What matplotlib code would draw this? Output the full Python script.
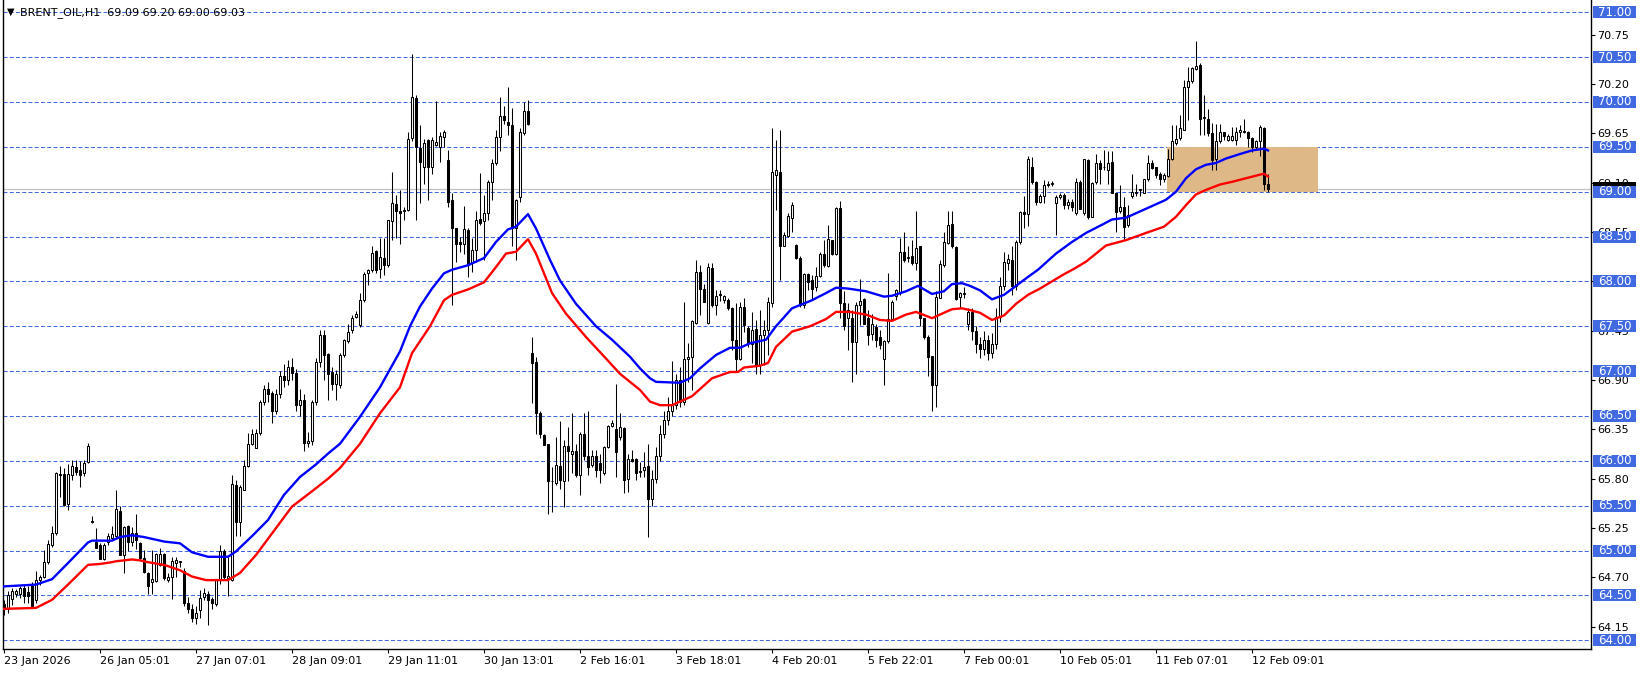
import matplotlib
matplotlib.use("Agg")
import matplotlib.pyplot as plt
from matplotlib.patches import Rectangle
import numpy as np

# H1 candles, 23 Jan 2026 -> 12 Feb 2026 (one entry per bar)
opens = [
    64.40, 64.35, 64.46, 64.51, 64.51, 64.58, 64.54, 64.63, 64.45, 64.67,
    64.71, 64.87, 65.06, 65.19, 65.85, 65.85, 65.52, 65.84, 65.93, 65.90,
    65.86, 65.99, 65.32, 65.10, 65.06, 64.90, 65.10, 65.14, 65.16, 65.44,
    64.95, 65.27, 65.09, 65.19, 65.08, 64.92, 64.75, 64.65, 64.66, 64.84,
    64.96, 64.67, 64.71, 64.86, 64.87, 64.77, 64.42, 64.35, 64.25, 64.34,
    64.48, 64.52, 64.46, 64.40, 64.67, 64.99, 64.69, 64.67, 65.73, 65.32,
    65.68, 65.94, 66.19, 66.14, 66.31, 66.66, 66.80, 66.76, 66.55, 66.75,
    66.95, 66.90, 67.05, 66.98, 66.62, 66.68, 66.20, 66.22, 66.66, 67.10,
    67.40, 67.19, 66.99, 66.86, 66.84, 67.18, 67.33, 67.46, 67.60, 67.51,
    67.79, 68.09, 68.13, 68.34, 68.14, 68.26, 68.18, 68.67, 68.86, 68.78,
    68.80, 68.80, 69.60, 70.05, 69.49, 69.27, 69.58, 69.27, 69.52, 69.50,
    69.61, 69.35, 68.91, 68.59, 68.44, 68.42, 68.57, 68.20, 68.35, 68.70,
    68.67, 68.76, 69.11, 69.32, 69.61, 69.84, 69.78, 69.74, 68.59, 68.94,
    69.65, 69.90, 67.20, 67.10, 66.53, 66.29, 66.19, 65.77, 65.75, 65.94,
    65.78, 66.16, 66.08, 66.11, 65.84, 66.30, 66.05, 65.95, 66.05, 65.97,
    65.86, 66.15, 66.39, 66.35, 66.27, 66.37, 65.80, 66.02, 66.02, 65.88,
    65.90, 65.94, 65.57, 65.80, 66.05, 66.30, 66.45, 66.55, 66.62, 66.90,
    66.65, 67.13, 67.16, 67.54, 68.10, 67.92, 67.54, 68.15, 67.74, 67.85,
    67.79, 67.79, 67.70, 67.35, 67.14, 67.72, 67.48, 67.30, 67.47, 67.07,
    67.40, 67.46, 67.76, 69.19, 69.22, 68.39, 68.51, 68.71, 68.41, 68.26,
    67.74, 68.08, 68.02, 67.94, 68.06, 68.30, 68.17, 68.46, 68.31, 68.82,
    67.76, 67.59, 67.59, 67.32, 67.74, 67.80, 67.59, 67.41, 67.49, 67.38,
    67.13, 67.33, 67.58, 67.84, 67.87, 68.33, 68.26, 68.28, 68.20, 68.39,
    67.59, 67.38, 67.17, 66.85, 67.81, 68.18, 68.43, 68.64, 68.38, 67.83,
    67.86, 67.53, 67.66, 67.45, 67.30, 67.25, 67.35, 67.20, 67.30, 67.60,
    67.95, 68.21, 68.24, 67.95, 68.44, 68.77, 68.75, 69.28, 69.11, 68.89,
    68.95, 69.08, 69.09, 68.87, 68.94, 68.96, 68.85, 68.89, 68.76, 69.11,
    68.76, 69.35, 68.72, 69.11, 69.32, 69.27, 69.24, 69.33, 68.98, 68.78,
    68.83, 68.63, 68.95, 68.99, 69.02, 68.99, 69.14, 69.32, 69.27, 69.20,
    69.14, 69.17, 69.37, 69.54, 69.60, 69.69, 70.17, 70.23, 70.37, 70.41,
    69.82, 69.81, 69.65, 69.37, 69.57, 69.66, 69.58, 69.58, 69.58, 69.67,
    69.67, 69.67, 69.60, 69.50, 69.56, 69.71, 69.09,
]
highs = [
    64.45, 64.55, 64.58, 64.57, 64.60, 64.62, 64.60, 64.65, 64.77, 64.73,
    65.01, 65.12, 65.27, 65.88, 65.94, 65.92, 65.96, 66.01, 66.01, 66.00,
    66.01, 66.20, 65.38, 65.25, 65.08, 65.08, 65.20, 65.27, 65.68, 65.50,
    65.27, 65.28, 65.26, 65.41, 65.09, 65.01, 64.76, 65.01, 64.97, 65.03,
    64.97, 64.75, 64.93, 64.93, 64.88, 64.80, 64.48, 64.40, 64.38, 64.56,
    64.58, 64.55, 64.48, 64.67, 65.06, 65.02, 64.93, 65.84, 65.79, 65.73,
    66.01, 66.31, 66.36, 66.36, 66.68, 66.85, 66.88, 66.78, 66.80, 67.00,
    67.08, 67.12, 67.15, 67.02, 66.80, 66.75, 66.32, 66.68, 67.15, 67.46,
    67.46, 67.20, 67.05, 67.01, 67.20, 67.36, 67.53, 67.62, 67.67, 67.87,
    68.11, 68.14, 68.40, 68.35, 68.48, 68.48, 68.68, 69.22, 68.96, 69.02,
    68.83, 69.67, 70.54, 70.08, 69.74, 69.59, 69.59, 69.61, 70.01, 69.67,
    69.69, 69.46, 68.98, 68.59, 68.50, 68.84, 68.59, 68.48, 68.78, 69.21,
    68.96, 69.13, 69.37, 69.69, 70.06, 69.95, 70.17, 69.93, 68.92, 69.71,
    70.00, 70.02, 67.38, 67.16, 66.55, 66.30, 66.19, 65.93, 66.27, 66.44,
    66.23, 66.38, 66.53, 66.19, 66.32, 66.53, 66.55, 66.12, 66.12, 66.08,
    66.17, 66.40, 66.45, 66.86, 66.53, 66.38, 66.08, 66.12, 66.03, 65.99,
    66.10, 66.19, 65.90, 66.15, 66.40, 66.55, 66.71, 67.11, 66.97, 67.05,
    67.77, 67.31, 67.57, 68.24, 68.18, 67.97, 68.20, 68.20, 67.90, 67.90,
    67.85, 67.81, 67.72, 67.76, 67.77, 67.81, 67.50, 67.66, 67.57, 67.68,
    67.57, 67.83, 69.71, 69.58, 69.69, 68.55, 68.76, 68.88, 68.42, 68.28,
    68.09, 68.09, 68.07, 68.16, 68.33, 68.46, 68.63, 68.46, 68.83, 68.90,
    67.89, 67.76, 67.68, 67.77, 68.03, 67.82, 67.68, 67.64, 67.53, 67.46,
    67.35, 68.09, 67.79, 67.91, 68.48, 68.55, 68.39, 68.46, 68.79, 68.39,
    67.59, 67.40, 67.17, 67.89, 68.24, 68.55, 68.78, 68.78, 68.39, 67.88,
    67.94, 67.70, 67.70, 67.50, 67.38, 67.45, 67.40, 67.42, 67.70, 68.05,
    68.33, 68.31, 68.39, 68.46, 68.78, 68.95, 69.40, 69.39, 69.12, 68.97,
    69.13, 69.12, 69.12, 68.96, 68.99, 68.98, 68.92, 68.92, 69.15, 69.13,
    69.37, 69.37, 69.11, 69.42, 69.35, 69.46, 69.45, 69.45, 68.99, 69.07,
    68.94, 68.85, 69.20, 69.09, 69.03, 69.14, 69.41, 69.35, 69.28, 69.22,
    69.21, 69.48, 69.74, 69.74, 69.86, 70.25, 70.39, 70.39, 70.68, 70.43,
    70.08, 69.92, 69.77, 69.76, 69.76, 69.67, 69.64, 69.72, 69.72, 69.74,
    69.81, 69.68, 69.61, 69.58, 69.74, 69.72, 69.20,
]
lows = [
    64.28, 64.30, 64.39, 64.48, 64.47, 64.41, 64.41, 64.36, 64.42, 64.62,
    64.69, 64.85, 65.04, 65.17, 65.60, 65.50, 65.45, 65.79, 65.84, 65.71,
    65.83, 65.97, 65.31, 65.03, 64.90, 64.89, 65.06, 65.12, 65.14, 64.95,
    64.75, 64.99, 65.05, 65.02, 64.91, 64.75, 64.51, 64.51, 64.65, 64.83,
    64.67, 64.65, 64.46, 64.71, 64.82, 64.38, 64.30, 64.20, 64.18, 64.25,
    64.45, 64.17, 64.35, 64.38, 64.63, 64.68, 64.49, 64.66, 65.16, 65.16,
    65.67, 65.93, 66.18, 66.14, 66.29, 66.62, 66.66, 66.42, 66.52, 66.70,
    66.82, 66.85, 66.90, 66.55, 66.50, 66.11, 66.15, 66.18, 66.62, 67.05,
    66.90, 66.68, 66.79, 66.68, 66.81, 67.16, 67.31, 67.42, 67.59, 67.49,
    67.77, 67.96, 68.11, 68.09, 68.04, 68.07, 68.16, 68.46, 68.48, 68.42,
    68.68, 68.78, 69.56, 68.68, 68.87, 69.09, 68.91, 69.20, 69.51, 69.33,
    69.50, 68.83, 67.74, 68.22, 68.33, 68.31, 68.05, 68.11, 68.22, 68.63,
    68.24, 68.68, 68.91, 69.30, 69.45, 69.76, 69.63, 68.40, 68.24, 68.89,
    69.63, 69.74, 66.64, 66.30, 66.25, 66.18, 65.41, 65.43, 65.73, 65.69,
    65.49, 65.78, 65.86, 65.82, 65.62, 66.01, 65.84, 65.93, 65.82, 65.75,
    65.84, 66.14, 66.38, 65.82, 66.23, 65.64, 65.65, 65.99, 65.79, 65.82,
    65.82, 65.15, 65.50, 65.75, 66.00, 66.25, 66.40, 66.50, 66.58, 66.60,
    66.62, 66.88, 66.79, 67.53, 67.63, 67.77, 67.53, 67.72, 67.63, 67.78,
    67.76, 67.68, 67.24, 66.99, 67.12, 67.44, 67.27, 67.09, 66.97, 66.97,
    67.07, 67.18, 67.72, 68.80, 68.02, 68.39, 68.50, 68.55, 68.25, 67.72,
    67.70, 67.90, 67.79, 67.89, 68.05, 68.16, 68.16, 68.29, 68.29, 67.59,
    67.46, 67.24, 66.88, 66.97, 67.51, 67.53, 67.29, 67.35, 67.27, 67.25,
    66.85, 67.31, 67.57, 67.79, 67.85, 68.22, 68.22, 68.18, 68.13, 67.50,
    67.36, 66.94, 66.56, 66.60, 67.81, 68.16, 68.42, 68.37, 67.79, 67.70,
    67.81, 67.46, 67.35, 67.20, 67.15, 67.18, 67.12, 67.15, 67.25, 67.55,
    67.90, 68.13, 67.85, 67.90, 68.42, 68.60, 68.62, 69.09, 68.85, 68.87,
    68.87, 69.05, 69.06, 68.52, 68.92, 68.81, 68.81, 68.78, 68.74, 68.81,
    68.74, 68.70, 68.72, 69.09, 69.09, 69.24, 69.09, 68.98, 68.55, 68.76,
    68.46, 68.61, 68.93, 68.95, 68.95, 68.98, 69.12, 69.25, 69.15, 69.07,
    69.11, 69.16, 69.35, 69.52, 69.58, 69.69, 69.80, 70.21, 70.36, 69.63,
    69.63, 69.62, 69.24, 69.24, 69.54, 69.58, 69.56, 69.56, 69.52, 69.61,
    69.65, 69.50, 69.44, 69.47, 69.40, 69.02, 69.00,
]
closes = [
    64.35, 64.50, 64.55, 64.55, 64.58, 64.49, 64.49, 64.38, 64.67, 64.71,
    64.87, 65.07, 65.20, 65.86, 65.84, 65.51, 65.85, 65.94, 65.88, 65.84,
    65.97, 66.17, 65.32, 65.03, 64.90, 65.06, 65.16, 65.18, 65.46, 64.95,
    65.26, 65.10, 65.20, 65.12, 64.92, 64.76, 64.60, 64.68, 64.96, 64.96,
    64.69, 64.70, 64.88, 64.89, 64.87, 64.42, 64.35, 64.25, 64.30, 64.47,
    64.53, 64.45, 64.41, 64.67, 64.99, 64.70, 64.72, 65.74, 65.32, 65.71,
    65.94, 66.19, 66.30, 66.31, 66.66, 66.80, 66.75, 66.55, 66.75, 66.95,
    66.90, 67.05, 66.98, 66.62, 66.68, 66.20, 66.22, 66.66, 67.10, 67.40,
    67.18, 66.97, 66.86, 66.97, 67.18, 67.35, 67.44, 67.59, 67.64, 67.79,
    68.08, 68.13, 68.32, 68.13, 68.27, 68.18, 68.68, 68.87, 68.78, 68.76,
    68.78, 69.59, 70.06, 69.50, 69.33, 69.54, 69.27, 69.58, 69.55, 69.62,
    69.66, 68.89, 68.59, 68.42, 68.42, 68.58, 68.18, 68.35, 68.69, 68.65,
    68.76, 69.11, 69.32, 69.61, 69.84, 69.80, 69.74, 68.59, 68.91, 69.66,
    69.90, 69.75, 67.09, 66.53, 66.30, 66.18, 65.77, 65.77, 65.95, 65.79,
    66.16, 66.11, 66.11, 65.84, 66.30, 66.05, 65.93, 66.05, 65.90, 65.90,
    66.15, 66.39, 66.42, 66.10, 66.38, 65.79, 66.02, 66.00, 65.86, 65.88,
    65.93, 65.57, 65.80, 66.05, 66.30, 66.45, 66.55, 66.62, 66.90, 66.65,
    67.13, 67.16, 67.56, 68.11, 67.92, 67.77, 68.16, 67.74, 67.84, 67.85,
    67.84, 67.70, 67.35, 67.14, 67.72, 67.51, 67.31, 67.46, 67.07, 67.40,
    67.46, 67.77, 69.22, 69.24, 68.39, 68.52, 68.73, 68.85, 68.26, 67.74,
    68.08, 67.99, 67.92, 68.06, 68.30, 68.18, 68.47, 68.31, 68.82, 67.76,
    67.50, 67.68, 67.32, 67.74, 67.78, 67.53, 67.40, 67.52, 67.35, 67.29,
    67.34, 67.58, 67.77, 67.90, 68.33, 68.24, 68.26, 68.21, 68.37, 67.59,
    67.38, 67.16, 66.85, 67.83, 68.19, 68.44, 68.63, 68.39, 67.80, 67.87,
    67.86, 67.66, 67.45, 67.30, 67.25, 67.35, 67.20, 67.30, 67.60, 67.95,
    68.22, 68.25, 67.95, 68.44, 68.77, 68.75, 69.36, 69.11, 68.89, 68.95,
    69.08, 69.09, 69.10, 68.94, 68.96, 68.85, 68.88, 68.83, 69.11, 68.81,
    69.37, 68.72, 69.10, 69.32, 69.25, 69.27, 69.32, 68.98, 68.77, 68.83,
    68.61, 68.74, 69.00, 68.99, 69.02, 69.14, 69.32, 69.26, 69.19, 69.14,
    69.19, 69.37, 69.56, 69.59, 69.71, 70.17, 70.23, 70.38, 70.40, 69.81,
    69.82, 69.65, 69.35, 69.56, 69.66, 69.62, 69.62, 69.62, 69.67, 69.69,
    69.67, 69.60, 69.50, 69.57, 69.72, 69.09, 69.03,
]

# moving averages (bar index, price)
blue_bars = [0, 8, 12, 16, 21, 22, 27, 29, 32, 35, 40, 44, 47, 51, 56, 58, 62, 66,
             70, 74, 78, 81, 84, 89, 94, 99, 101.5, 104, 107, 110, 112, 116, 120,
             123, 126, 128, 131, 133, 136.5, 139, 143, 148, 152, 156.5, 159, 161.5,
             163, 169, 171.5, 174, 178, 181.5, 184, 186.5, 190.5, 193, 197, 202,
             205.5, 208, 211, 215.5, 220, 222, 225.5, 228.5, 232, 235, 237, 239.5,
             241.5, 244, 247, 250, 253, 256, 258.5, 263, 267, 270.5, 274, 277,
             280.5, 284, 287, 290.5, 293, 295.5, 298, 300.5, 303, 305.5, 309, 312,
             315, 316]
blue_vals = [64.60, 64.62, 64.68, 64.86, 65.09, 65.11, 65.11, 65.15, 65.17, 65.15,
             65.10, 65.08, 64.98, 64.93, 64.93, 64.99, 65.16, 65.34, 65.62, 65.82,
             65.96, 66.08, 66.19, 66.49, 66.82, 67.22, 67.50, 67.72, 67.92, 68.09,
             68.13, 68.18, 68.26, 68.44, 68.58, 68.61, 68.75, 68.59, 68.24, 68.01,
             67.75, 67.50, 67.35, 67.16, 67.03, 66.92, 66.88, 66.87, 66.92, 67.03,
             67.18, 67.26, 67.26, 67.31, 67.35, 67.50, 67.70, 67.79, 67.87, 67.93,
             67.92, 67.89, 67.83, 67.84, 67.89, 67.95, 67.86, 67.89, 67.97, 67.98,
             67.95, 67.90, 67.80, 67.85, 67.95, 68.05, 68.13, 68.31, 68.44, 68.54,
             68.62, 68.69, 68.71, 68.78, 68.84, 68.91, 69.00, 69.15, 69.25, 69.30,
             69.32, 69.37, 69.42, 69.46, 69.48, 69.46]
red_bars = [0, 8, 12, 16, 21, 24, 27, 28, 32, 34, 36, 40, 44, 47, 50.5, 56, 59, 63,
            67, 72, 77, 81, 84, 89, 94, 99, 102, 106.5, 110, 112, 116, 120, 123,
            125.5, 128, 131, 133, 137, 140.5, 145.5, 150.5, 154, 159, 161.5, 164,
            167, 172, 177, 181.5, 183.5, 185, 189, 191, 193, 197, 201.5, 205.5,
            208, 211.5, 215.5, 219, 222, 225.5, 228, 232, 237, 239.5, 241.5, 244,
            247, 250, 253, 256, 259, 262, 265, 267.5, 270.5, 275.5, 280.5, 285.5,
            290, 293, 295.5, 298, 300.5, 304, 307, 310.5, 314, 315, 316]
red_vals = [64.35, 64.36, 64.45, 64.62, 64.84, 64.85, 64.87, 64.88, 64.90, 64.89,
            64.87, 64.84, 64.78, 64.71, 64.67, 64.67, 64.75, 64.95, 65.19, 65.49,
            65.66, 65.80, 65.92, 66.19, 66.53, 66.82, 67.20, 67.50, 67.79, 67.85,
            67.91, 67.99, 68.16, 68.31, 68.33, 68.47, 68.31, 67.87, 67.64, 67.38,
            67.14, 66.97, 66.79, 66.66, 66.62, 66.62, 66.72, 66.92, 66.99, 66.99,
            67.04, 67.06, 67.09, 67.27, 67.44, 67.50, 67.58, 67.66, 67.66, 67.63,
            67.57, 67.56, 67.63, 67.66, 67.59, 67.69, 67.70, 67.68, 67.65, 67.57,
            67.62, 67.75, 67.85, 67.92, 68.00, 68.08, 68.14, 68.22, 68.40, 68.46,
            68.54, 68.61, 68.72, 68.85, 68.97, 69.02, 69.08, 69.11, 69.15, 69.19,
            69.20, 69.17]

level_lines = [64.00, 64.50, 65.00, 65.50, 66.00, 66.50, 67.00, 67.50,
               68.00, 68.50, 69.00, 69.50, 70.00, 70.50, 71.00]
price_ticks = [64.15, 64.70, 65.25, 65.80, 66.35, 66.90, 67.45,
               68.00, 68.55, 69.10, 69.65, 70.20, 70.75]
time_labels = ["23 Jan 2026", "26 Jan 05:01", "27 Jan 07:01", "28 Jan 09:01",
               "29 Jan 11:01", "30 Jan 13:01", "2 Feb 16:01", "3 Feb 18:01",
               "4 Feb 20:01", "5 Feb 22:01", "7 Feb 00:01", "10 Feb 05:01",
               "11 Feb 07:01", "12 Feb 09:01"]
bars_per_label = 24
zone_bars = (290.75, 328.5)
zone_prices = (69.00, 69.50)
last_price = 69.03
title = "BRENT_OIL,H1  69.09 69.20 69.00 69.03"

W, H = 1641, 673
LEFT, RIGHT, TOP, BOTTOM = 3, 1591, 0, 649  # plot area in pixels
PX_PER_UNIT = 89.7                           # vertical pixels per 1.00 of price
LINE_BLUE = "#4169E1"

plt.rcParams["font.family"] = ["DejaVu Sans"]
fig = plt.figure(figsize=(W / 100, H / 100), dpi=100)
ax = fig.add_axes([LEFT / W, (H - BOTTOM) / H, (RIGHT - LEFT) / W, (BOTTOM - TOP) / H])
ax.set_xlim(-0.25, 396.75)
ax.set_ylim(63.902, 71.137)

o = np.array(opens)
h = np.array(highs)
l = np.array(lows)
c = np.array(closes)
x = np.arange(len(c))

# background objects
ax.axhline(last_price, color="#C0C0C0", lw=0.9, zorder=1)
for lv in level_lines:
    ax.axhline(lv, color=LINE_BLUE, lw=0.75, dashes=(3.8, 2.2), zorder=1.5)
ax.add_patch(Rectangle((zone_bars[0], zone_prices[0]), zone_bars[1] - zone_bars[0],
                       zone_prices[1] - zone_prices[0], facecolor="#DEB887",
                       edgecolor="none", zorder=1.8))

# candles
up = c >= o
ax.vlines(x, l, h, color="black", lw=0.75, zorder=3)
body_lo = np.minimum(o, c)
body_h = np.maximum(np.abs(c - o), 0.008)
ax.bar(x, body_h, bottom=body_lo, width=0.55,
       color=np.where(up, "white", "black"), edgecolor="black", linewidth=0.75, zorder=4)

# moving averages
ax.plot(blue_bars, blue_vals, color="#0000FF", lw=1.7, zorder=5)
ax.plot(red_bars, red_vals, color="#FF0000", lw=1.7, zorder=5)

# axes styling
ax.spines["top"].set_visible(False)
for side in ("left", "right", "bottom"):
    ax.spines[side].set_linewidth(1.0)
ax.yaxis.tick_right()
ax.set_yticks(price_ticks)
ax.set_yticklabels([f"{p:.2f}" for p in price_ticks])
ax.tick_params(axis="y", direction="out", length=3, width=0.8, pad=1.5,
               labelsize=8, colors="black")
ax.set_xticks(np.arange(len(time_labels)) * bars_per_label)
ax.set_xticklabels(time_labels, ha="left")
ax.tick_params(axis="x", direction="out", length=3, width=0.8, pad=2,
               labelsize=8, colors="black")

# price label boxes on the right
ytr = ax.get_yaxis_transform()
bx0 = (1593 - LEFT) / (RIGHT - LEFT)
bw = (1636 - 1593) / (RIGHT - LEFT)
bh = 12 / PX_PER_UNIT
ax.add_patch(Rectangle((bx0, 68.97), bw, 0.14, transform=ytr,
                       facecolor="black", edgecolor="none", clip_on=False, zorder=6))
for lv in level_lines:
    ax.add_patch(Rectangle((bx0, lv - bh / 2), bw, bh, transform=ytr,
                           facecolor=LINE_BLUE, edgecolor="none", clip_on=False, zorder=7))
    ax.text(bx0 + bw / 2, lv, f"{lv:.2f}", transform=ytr, color="white",
            fontsize=8.5, ha="center", va="center", clip_on=False, zorder=8)

# title in the top-left corner
fig.text(7 / W, 1 - 12 / H, "\u25BC", fontsize=7, ha="left", va="center")
fig.text(20 / W, 1 - 13 / H, title, fontsize=8, ha="left", va="center")

fig.savefig("out.png", dpi=100, facecolor="white")
